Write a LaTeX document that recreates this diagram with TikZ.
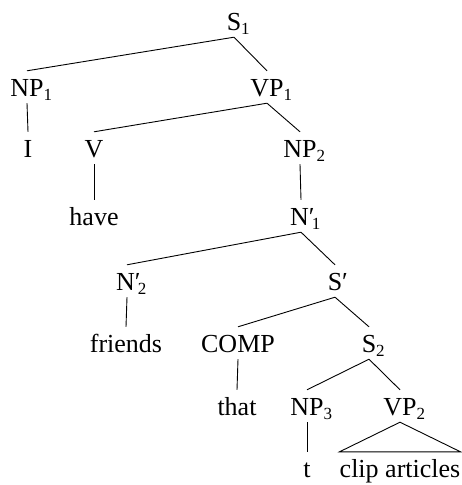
\documentclass[tikz,border=0pt]{standalone}
\usepackage{fontspec}
\setmainfont{Liberation Serif}
\newcommand{\sbs}[1]{\rlap{\raisebox{-4.5pt}{\fontsize{17}{17}\selectfont #1}}}
\newcommand{\prs}[1]{\rlap{′}\kern3pt\sbs{#1}}
\begin{document}
\begin{tikzpicture}[x=1pt,y=-1pt,
  every node/.style={font=\fontsize{26}{30}\selectfont, anchor=base,
    inner xsep=0pt, inner ysep=7pt, text height=18pt, text depth=0pt},
  edge/.style={line width=0.9pt}]
\useasboundingbox (0,0) rectangle (461,485);
\node (s1) at (234,30) {S\sbs{1}};
\node (np1) at (27,96) {NP\sbs{1}};
\node (vp1) at (267,96) {VP\sbs{1}};
\node (i) at (28,157) {I};
\node (v) at (94,157) {V};
\node (np2) at (300,157) {NP\sbs{2}};
\node (have) at (94,225) {have};
\node (n1) at (301,225) {N\prs{1}};
\node (n2) at (127,290) {N\prs{2}};
\node (sp) at (335,290) {S\rlap{′}};
\node (friends) at (126,352) {friends};
\node (comp) at (238,352) {COMP};
\node (s2) at (369,352) {S\sbs{2}};
\node (that) at (237,415) {that};
\node (np3) at (307,415) {NP\sbs{3}};
\node (vp2) at (400,415) {VP\sbs{2}};
\node (t) at (307,477) {t};
\node (clip) at (400,477) {clip articles};
\draw[edge] (s1.south) -- (np1.north);
\draw[edge] (s1.south) -- (vp1.north);
\draw[edge] (np1.south) -- (i.north);
\draw[edge] (vp1.south) -- (v.north);
\draw[edge] (vp1.south) -- (np2.north);
\draw[edge] (v.south) -- (have.north);
\draw[edge] (np2.south) -- (n1.north);
\draw[edge] (n1.south) -- (n2.north);
\draw[edge] (n1.south) -- (sp.north);
\draw[edge] (n2.south) -- (friends.north);
\draw[edge] (sp.south) -- (comp.north);
\draw[edge] (sp.south) -- (s2.north);
\draw[edge] (comp.south) -- (that.north);
\draw[edge] (s2.south) -- (np3.north);
\draw[edge] (s2.south) -- (vp2.north);
\draw[edge] (np3.south) -- (t.north);
\draw[edge] (vp2.south) -- (clip.north west) -- (clip.north east) -- cycle;
\end{tikzpicture}
\end{document}
